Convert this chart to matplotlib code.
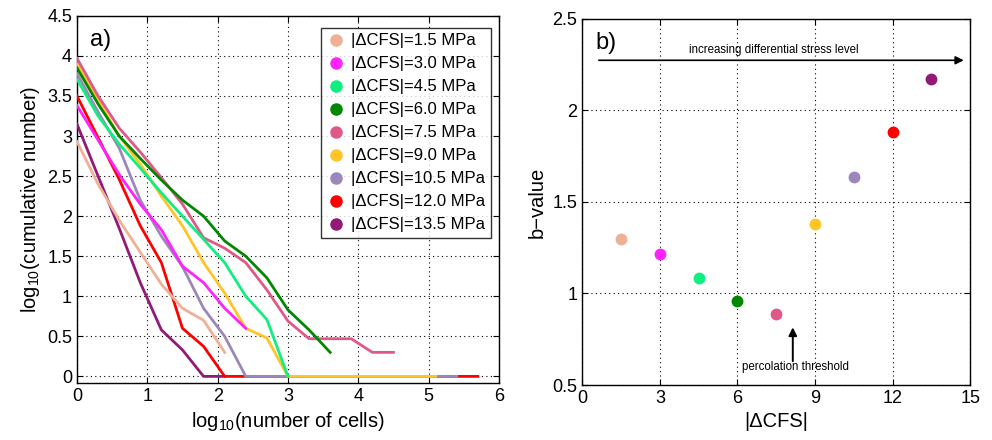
import matplotlib
matplotlib.use("Agg")
import matplotlib.pyplot as plt
import numpy as np

plt.rcParams["font.family"] = ["Liberation Sans", "DejaVu Sans"]
plt.rcParams["mathtext.fontset"] = "custom"
plt.rcParams["mathtext.rm"] = "Liberation Sans"
plt.rcParams["mathtext.it"] = "Liberation Sans:italic"

# stress levels (MPa) and colours
stress = [1.5, 3.0, 4.5, 6.0, 7.5, 9.0, 10.5, 12.0, 13.5]
colors = ["#F0B096", "#FF22FF", "#10EE80", "#008800", "#E05888",
          "#FFC425", "#9B87BA", "#FF0000", "#921A76"]

# panel a: log10(cumulative number) vs log10(number of cells)
x_15 = [0, 0.3, 0.6, 0.9, 1.2, 1.5, 1.8, 2.1]
y_15 = [2.93, 2.4, 1.95, 1.55, 1.15, 0.85, 0.7, 0.3]
x_30 = [0, 0.3, 0.6, 0.9, 1.2, 1.5, 1.8, 2.1, 2.4]
y_30 = [3.38, 2.95, 2.52, 2.15, 1.83, 1.375, 1.17, 0.85, 0.6]
x_45 = [0, 0.3, 0.6, 0.9, 1.2, 1.5, 1.8, 2.1, 2.4, 2.7, 3.0]
y_45 = [3.71, 3.25, 2.9, 2.6, 2.29, 2.0, 1.71, 1.42, 1.0, 0.71, 0.0]
x_60 = [0, 0.3, 0.6, 0.9, 1.2, 1.5, 1.8, 2.1, 2.4, 2.7, 3.0, 3.3, 3.6]
y_60 = [3.85, 3.4, 3.0, 2.72, 2.45, 2.2, 2.0, 1.69, 1.5, 1.23, 0.83, 0.58, 0.3]
x_75 = [0, 0.3, 0.6, 0.9, 1.2, 1.5, 1.8, 2.1, 2.4, 2.7, 3.0, 3.3, 3.6, 3.9, 4.2, 4.5]
y_75 = [3.97, 3.5, 3.1, 2.8, 2.48, 2.15, 1.73, 1.6, 1.42, 1.08, 0.69, 0.47, 0.47, 0.47, 0.3, 0.3]
x_90 = [0, 0.3, 0.6, 0.9, 1.2, 1.5, 1.8, 2.1, 2.4, 2.7, 3.0, 5.1]
y_90 = [3.9, 3.45, 3.0, 2.65, 2.25, 1.88, 1.42, 1.04, 0.6, 0.48, 0.0, 0.0]
x_105 = [0, 0.3, 0.6, 0.9, 1.2, 1.5, 1.8, 2.1, 2.4, 5.4]
y_105 = [3.78, 3.3, 2.85, 2.2, 1.75, 1.37, 0.85, 0.5, 0.0, 0.0]
x_120 = [0, 0.3, 0.6, 0.9, 1.2, 1.5, 1.8, 2.1, 5.7]
y_120 = [3.5, 2.98, 2.46, 1.88, 1.42, 0.6, 0.375, 0.0, 0.0]
x_135 = [0, 0.3, 0.6, 0.9, 1.2, 1.5, 1.8, 2.1]
y_135 = [3.15, 2.5, 1.85, 1.17, 0.58, 0.33, 0.0, 0.0]

curves_x = [x_15, x_30, x_45, x_60, x_75, x_90, x_105, x_120, x_135]
curves_y = [y_15, y_30, y_45, y_60, y_75, y_90, y_105, y_120, y_135]

# panel b: b-value per stress level
b_values = [1.297, 1.217, 1.083, 0.958, 0.89, 1.377, 1.636, 1.884, 2.172]

fig = plt.figure(figsize=(9.92, 4.4), dpi=100)
ax1 = fig.add_axes([0.0776, 0.130, 0.4254, 0.834])
ax2 = fig.add_axes([0.587, 0.125, 0.391, 0.832])

for ax in (ax1, ax2):
    ax.grid(True, color="black", linestyle=(0, (1, 3)), linewidth=0.8)
    ax.tick_params(direction="in", labelsize=13, length=4, top=True, right=True)
    for sp in ax.spines.values():
        sp.set_linewidth(1.0)

# draw in reverse order so the flat tails overlap like the original
for i in reversed(range(len(stress))):
    ax1.plot(curves_x[i], curves_y[i], color=colors[i], linewidth=2, zorder=3)

handles = [
    ax1.plot([], [], "o", color=c, markersize=8, label=f"|\u0394CFS|={s:.1f} MPa")[0]
    for s, c in zip(stress, colors)
]
leg = ax1.legend(handles=handles, loc="upper right", fontsize=12, frameon=True,
                 fancybox=False, edgecolor="black", handletextpad=0.3,
                 handlelength=1.2, borderpad=0.35, labelspacing=0.48,
                 borderaxespad=0, bbox_to_anchor=(0.982, 0.968))
leg.get_frame().set_linewidth(1.0)

ax1.set_xlim(0, 6)
ax1.set_ylim(-0.08, 4.5)
ax1.set_xticks(np.arange(0, 7, 1))
ax1.set_yticks(np.arange(0, 4.6, 0.5))
ax1.set_yticklabels(["0", "0.5", "1", "1.5", "2", "2.5", "3", "3.5", "4", "4.5"])
ax1.set_xlabel("log$_{10}$(number of cells)", fontsize=14.5)
ax1.set_ylabel("log$_{10}$(cumulative number)", fontsize=14.5)
ax1.text(0.03, 0.965, "a)", transform=ax1.transAxes, fontsize=17, va="top", ha="left")

for s, b, c in zip(stress, b_values, colors):
    ax2.plot(s, b, "o", color=c, markersize=7.5, zorder=3)

ax2.set_xlim(0, 15)
ax2.set_ylim(0.5, 2.5)
ax2.set_xticks([0, 3, 6, 9, 12, 15])
ax2.set_yticks([0.5, 1, 1.5, 2, 2.5])
ax2.set_yticklabels(["0.5", "1", "1.5", "2", "2.5"])
ax2.set_xlabel("|\u0394CFS|", fontsize=14.5)
ax2.set_ylabel("b\u2212value", fontsize=14.5)
ax2.text(0.035, 0.965, "b)", transform=ax2.transAxes, fontsize=17, va="top", ha="left")

ax2.annotate("", xy=(14.75, 2.274), xytext=(0.64, 2.274),
             arrowprops=dict(arrowstyle="-|>", color="black", lw=1.2,
                             mutation_scale=12, shrinkA=0, shrinkB=0))
ax2.text(7.4, 2.3, "increasing differential stress level", fontsize=8.3,
         ha="center", va="bottom")
ax2.annotate("", xy=(8.14, 0.815), xytext=(8.14, 0.63),
             arrowprops=dict(arrowstyle="-|>", color="black", lw=1.4,
                             mutation_scale=12, shrinkA=0, shrinkB=0))
ax2.text(8.24, 0.6, "percolation threshold", fontsize=8.3, ha="center", va="center")

fig.savefig("out.png", dpi=100)
